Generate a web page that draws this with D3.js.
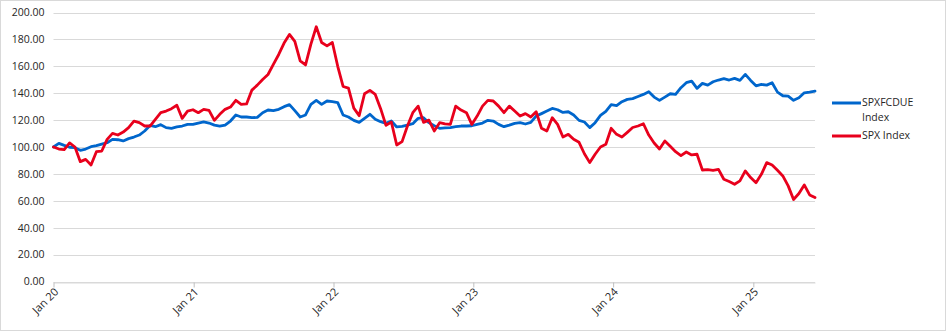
<!DOCTYPE html>
<html><head><meta charset="utf-8">
<script src="https://cdn.jsdelivr.net/npm/d3@7"></script>
<style>
body{margin:0;background:#fff;}
svg text{font-family:"Open Sans","Liberation Sans",sans-serif;}
</style></head><body>
<svg id="chart" width="947" height="332"></svg>
<script>
// ---- data ----
const startDate = "2020-01-01";
const stepDays = 14;
const seriesNames = ["SPXFCDUE Index", "SPX Index"];
const spxfcdue = [100,102.7,101.2,99.8,99.5,97.5,98.5,100.2,101,102.2,103.2,105.7,105.4,104.5,106.2,107.4,108.9,111.9,116,115.1,
116.6,114.4,113.9,114.9,115.6,116.8,116.8,117.8,118.6,117.8,116.3,115.6,116.3,119.3,123.8,122.3,122.3,121.8,122,125.5,
127.5,127,128,130,131.5,127,122.3,123.8,131.7,134.7,131.7,134.2,133.7,133,123.8,122.3,119.8,118.3,121.3,124.3,
120.6,118.8,117.6,119.3,114.9,115.3,116.3,117.3,121.3,121.8,118.1,115.8,113.9,114.2,114.4,115.1,115.6,115.6,115.8,116.8,
117.8,119.8,119.3,116.8,115.1,116.3,117.6,118.1,117.1,118.3,123,124.8,126.7,128.7,127.7,125.7,126.2,123.8,119.8,118.6,
114.4,118.1,123.5,126.5,131.5,130.7,133.7,135.4,136,137.5,139.1,141.1,137.1,134.7,137.1,139.6,139.1,144.1,147.8,149,
143.6,147.3,146,148.5,149.8,150.8,149.8,151,149.5,154,149.5,145.5,146.5,146,147.8,140.8,138.1,137.8,134.7,136.6,
140.3,140.8,141.6];
const spx = [100,98.5,98,103,100,89.1,90.8,86.6,96.5,97,105.7,110.1,108.9,111.1,114.4,119.3,118.1,115.6,115.6,120.5,
125.5,126.7,128.5,131,121.3,126.7,127.7,125.5,128,127.2,119.8,124.3,128,129.7,134.7,131.7,132,142.3,146,150.2,
153.9,161.4,168.8,177.3,183.7,178.5,164,161,176.5,189.4,177.7,175.2,177.7,160,145,143.8,128.9,123.3,139.6,142.1,
139.1,128.5,116.1,118.6,101.5,104,115.6,125.5,130.4,118.3,120,111.9,118.1,117.2,116.8,130.4,127.5,125.5,116.8,123,
130.4,134.7,134.2,130.4,125.5,130.4,126.7,123,124.8,122.3,126.2,113.9,111.9,121.8,116.8,107.4,109.4,105.7,103.5,95,
88.4,94.6,100,102,113.9,109.4,107.4,110.9,114.5,115.6,117.3,108.9,103,98.5,104.5,100.5,96.5,93.6,96.3,94.1,
94.6,82.9,83.2,82.7,83.4,76,74.3,72.3,74.8,82.2,77.3,73.5,79.7,88.4,86.6,82.7,78.5,71.1,61,65.4,
71.8,64.4,62.4];
const yTicks = [0,20,40,60,80,100,120,140,160,180,200];
const xTickDates = ["2020-01-01","2021-01-01","2022-01-01","2023-01-01","2024-01-01","2025-01-01"];
const xTickLabels = ["Jan 20","Jan 21","Jan 22","Jan 23","Jan 24","Jan 25"];
const colors = ["#0066cc", "#e8001c"];

// ---- build ----
const parse = d3.utcParse("%Y-%m-%d");
const t0 = parse(startDate);
const toPts = vals => vals.map((v,i)=>({date:d3.utcDay.offset(t0, i*stepDays), value:v}));
const series = [toPts(spxfcdue), toPts(spx)];

const svg = d3.select("#chart");
svg.append("rect").attr("x",0.5).attr("y",0.5).attr("width",945).attr("height",330)
  .attr("fill","#fff").attr("stroke","#d9d9d9");

const pL = 53.5, pR = 815, pT = 12.5, pB = 281.5;
const x = d3.scaleUtc().domain([series[0][0].date, series[0][series[0].length-1].date]).range([pL, pR]);
const y = d3.scaleLinear().domain([0,200]).range([pB, pT]);

// gridlines
svg.append("g").selectAll("line").data(yTicks).join("line")
  .attr("x1",pL).attr("x2",pR)
  .attr("y1",d=>Math.round(y(d))+0.5).attr("y2",d=>Math.round(y(d))+0.5)
  .attr("stroke","#d9d9d9").attr("stroke-width",1);

// y axis labels
const yAxis = svg.append("g").attr("transform",`translate(${pL},0)`)
  .call(d3.axisLeft(y).tickValues(yTicks).tickFormat(d3.format(".2f")).tickSize(0).tickPadding(9));
yAxis.select(".domain").remove();
yAxis.selectAll("text").attr("font-size","10.5px").attr("fill","#262626")
  .attr("font-family","'Open Sans',sans-serif");

// x axis
const xAxis = svg.append("g").attr("transform",`translate(0,${Math.round(y(0))+0.5})`)
  .call(d3.axisBottom(x).tickValues(xTickDates.map(parse)).tickFormat((d,i)=>xTickLabels[i]).tickSize(5).tickSizeOuter(0));
xAxis.select(".domain").attr("stroke","#d9d9d9");
xAxis.selectAll(".tick line").attr("stroke","#bfbfbf");
xAxis.selectAll("text").attr("font-size","11px").attr("fill","#262626")
  .attr("font-family","'Open Sans',sans-serif")
  .attr("text-anchor","end").attr("dy",null).attr("y",null)
  .attr("transform","translate(3,8) rotate(-45)").attr("dominant-baseline","middle");

// lines
const line = d3.line().x(d=>x(d.date)).y(d=>y(d.value));
series.forEach((s,k)=>{
  svg.append("path").datum(s).attr("d",line).attr("fill","none")
    .attr("stroke",colors[k]).attr("stroke-width",2.8)
    .attr("stroke-linejoin","round").attr("stroke-linecap","round");
});

// legend
const lg = svg.append("g");
const legendY = [103, 136];
seriesNames.forEach((n,k)=>{
  lg.append("line").attr("x1",832).attr("x2",861).attr("y1",legendY[k]).attr("y2",legendY[k])
    .attr("stroke",colors[k]).attr("stroke-width",3);
});
const t1 = lg.append("text").attr("x",862).attr("y",legendY[0]).attr("font-size","10.5px").attr("fill","#262626")
  .attr("dominant-baseline","middle");
t1.append("tspan").attr("x",862).attr("dy",0).text("SPXFCDUE");
t1.append("tspan").attr("x",862).attr("dy","15").text("Index");
lg.append("text").attr("x",862).attr("y",legendY[1]).attr("font-size","10.5px").attr("fill","#262626")
  .attr("dominant-baseline","middle").text(seriesNames[1]);
</script>
</body></html>
